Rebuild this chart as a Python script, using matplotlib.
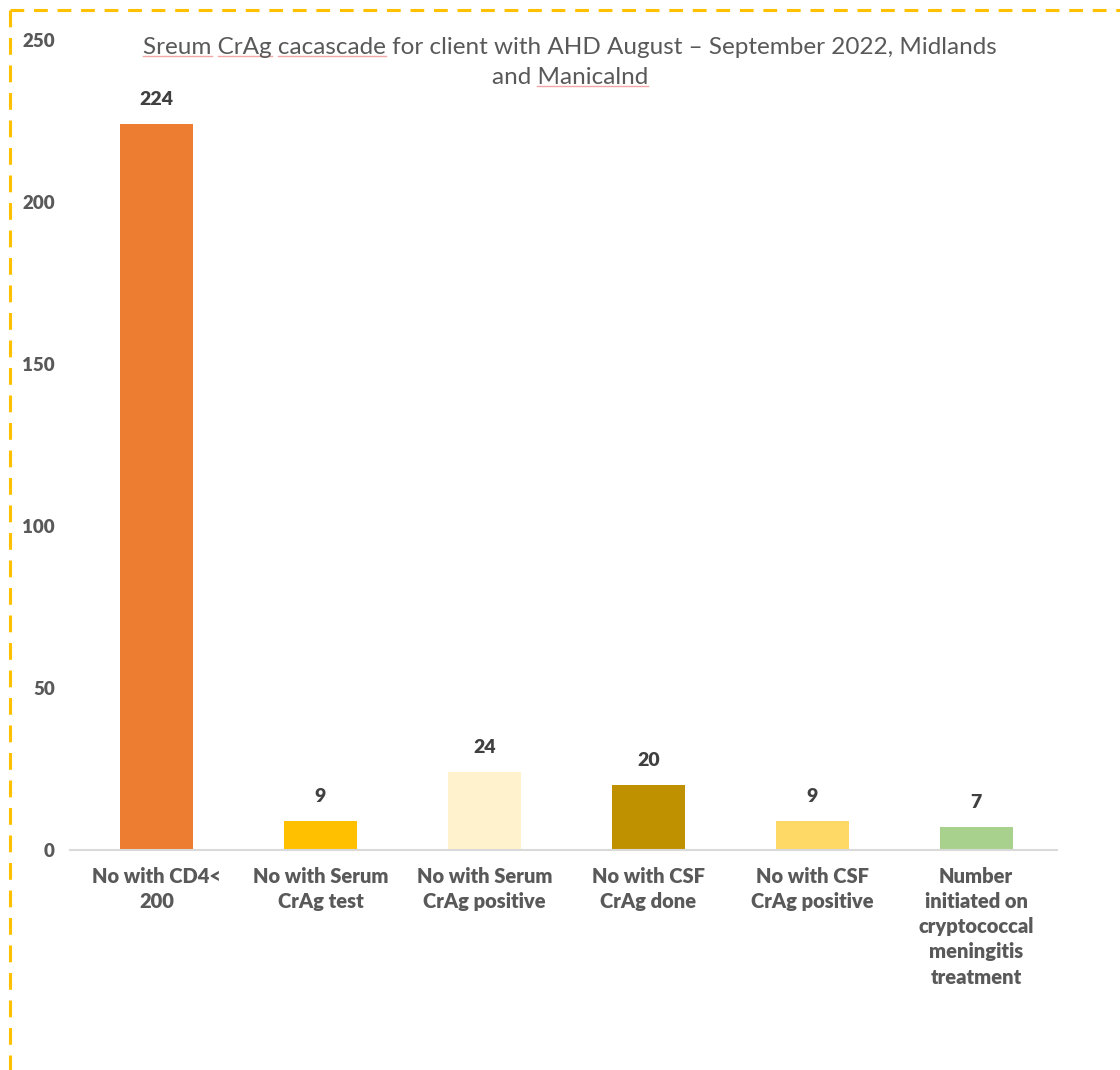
import matplotlib
matplotlib.use('Agg')
import matplotlib.pyplot as plt
from matplotlib.lines import Line2D

plt.rcParams['font.family'] = ['Lato', 'DejaVu Sans']

categories = ['No with CD4<\n200', 'No with Serum\nCrAg test', 'No with Serum\nCrAg positive',
              'No with CSF\nCrAg done', 'No with CSF\nCrAg positive',
              'Number\ninitiated on\ncryptococcal\nmeningitis\ntreatment']
values = [224, 9, 24, 20, 9, 7]
colors = ['#ED7D31', '#FFC000', '#FFF2CC', '#BF9000', '#FFD966', '#A9D18E']
title_lines = ['Sreum CrAg cacascade for client with AHD August \u2013 September 2022, Midlands',
               'and Manicalnd']
misspelled = [['Sreum', 'CrAg', 'cacascade'], ['Manicalnd']]

W, H = 1120, 1070
fig = plt.figure(figsize=(W / 100, H / 100), dpi=100)
ax = fig.add_axes([70 / W, 1 - 850 / H, (1057 - 70) / W, (850 - 40) / H])

x = range(len(values))
ax.bar(x, values, width=0.445, color=colors)
for i, v in enumerate(values):
    ax.text(i, v + 5, str(v), ha='center', va='bottom', fontsize=14,
            fontweight=800, color='#404040')

ax.set_xlim(-0.528, len(values) - 0.506)
ax.set_ylim(0, 250)
ax.set_yticks(range(0, 251, 50))
ax.set_xticks(list(x))
ax.set_xticklabels(categories, fontsize=14.5, fontweight=800, color='#595959',
                   linespacing=1.39)
for lab in ax.get_yticklabels():
    lab.set_fontweight(800)
    lab.set_color('#595959')
    lab.set_fontsize(13.5)
ax.tick_params(axis='both', length=0)
ax.tick_params(axis='y', pad=11)
ax.tick_params(axis='x', pad=12)
for s in ['top', 'right', 'left']:
    ax.spines[s].set_visible(False)
ax.spines['bottom'].set_color('#D9D9D9')
ax.spines['bottom'].set_linewidth(1.5)

# title, with spell-check underlines
tsize = 17.5
tx = 570 / W
tys = [1 - 47 / H, 1 - 77 / H]
renderer = fig.canvas.get_renderer()
for line, ty, words in zip(title_lines, tys, misspelled):
    t = fig.text(tx, ty, line, ha='center', va='center', fontsize=tsize, color='#595959')
    bb = t.get_window_extent(renderer)
    for w in words:
        idx = line.index(w)
        tmp = fig.text(0, 0, line[:idx] if idx else 'x', fontsize=tsize)
        pre = tmp.get_window_extent(renderer).width if idx else 0
        tmp.set_text(w)
        ww = tmp.get_window_extent(renderer).width
        tmp.remove()
        x0 = (bb.x0 + pre) / W
        x1 = (bb.x0 + pre + ww) / W
        yy = (bb.y0 + 2) / H
        fig.add_artist(Line2D([x0, x1], [yy, yy], color='#F4A6A6', lw=1.0,
                              transform=fig.transFigure))

# dashed border
fig.add_artist(Line2D([10 / W, 1], [1 - 10 / H, 1 - 10 / H], color='#FFC000', lw=2.2,
                      dashes=(4.5, 3.2), transform=fig.transFigure))
fig.add_artist(Line2D([10 / W, 10 / W], [1 - 10 / H, 0], color='#FFC000', lw=2.2,
                      dashes=(5.5, 3.5), transform=fig.transFigure))

fig.savefig('out.png', dpi=100)
